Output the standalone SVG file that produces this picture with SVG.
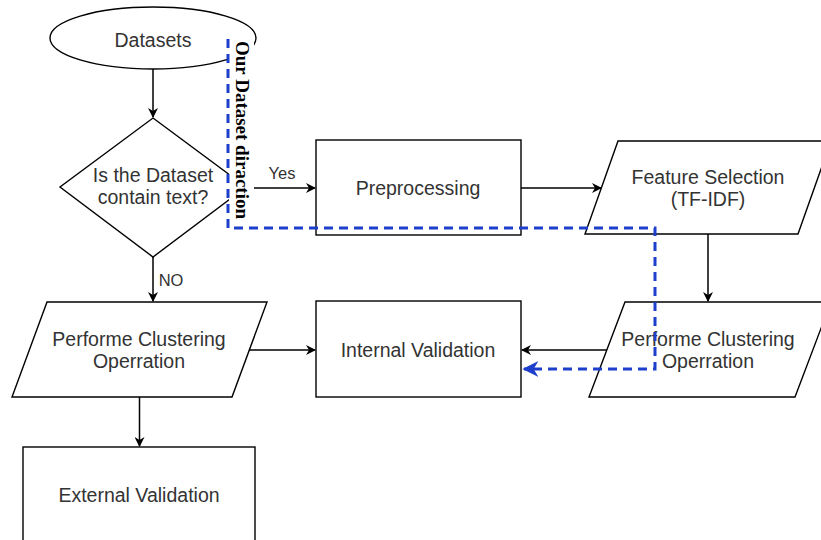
<svg xmlns="http://www.w3.org/2000/svg" width="821" height="540" viewBox="0 0 821 540">
<style>
.s{fill:#fff;stroke:#000;stroke-width:1.4}
.t{font-family:"Liberation Sans",Arial,sans-serif;font-size:19.5px;fill:#333;text-anchor:middle;dominant-baseline:central}
.l{font-family:"Liberation Sans",Arial,sans-serif;font-size:16.5px;fill:#333;text-anchor:middle;dominant-baseline:central}
.c{fill:none;stroke:#000;stroke-width:1.5}
.b{fill:none;stroke:#1d3fcc;stroke-width:3;stroke-dasharray:9 6}
</style>
<defs>
<marker id="ah" viewBox="0 0 10 10" refX="9" refY="5" markerWidth="10" markerHeight="10" markerUnits="userSpaceOnUse" orient="auto">
<path d="M0,0 L10,5 L0,10 L3,5 z" fill="#000"/>
</marker>
<marker id="bh" viewBox="0 0 10 10" refX="9" refY="5" markerWidth="16" markerHeight="16" markerUnits="userSpaceOnUse" orient="auto">
<path d="M0,0 L10,5 L0,10 L3,5 z" fill="#1d3fcc"/>
</marker>
</defs>
<g id="datasets"><ellipse class="s" cx="153" cy="38" rx="103" ry="31"/><text class="t" x="153" y="40">Datasets</text></g>
<g id="decision"><polygon class="s" points="153,118 246,187 153,257 60,187"/><text class="t" x="153" y="175">Is the Dataset</text><text class="t" x="153" y="197">contain text?</text></g>
<g id="preprocessing"><rect class="s" x="316" y="140" width="205" height="95"/><text class="t" x="418" y="188">Preprocessing</text></g>
<g id="feature"><polygon class="s" points="618,141 831,141 798,234 585,234"/><text class="t" x="708" y="177">Feature Selection</text><text class="t" x="708" y="199">(TF-IDF)</text></g>
<g id="cluster-right"><polygon class="s" points="625,302 831,302 795,397 589,397"/><text class="t" x="708" y="339">Performe Clustering</text><text class="t" x="708" y="361">Operration</text></g>
<g id="internal"><rect class="s" x="316" y="301" width="205" height="96"/><text class="t" x="418" y="350">Internal Validation</text></g>
<g id="cluster-left"><polygon class="s" points="47,302 267,302 232,397 12,397"/><text class="t" x="139" y="339">Performe Clustering</text><text class="t" x="139" y="361">Operration</text></g>
<g id="external"><rect class="s" x="23" y="447" width="232" height="120"/><text class="t" x="139" y="495">External Validation</text></g>
<g id="connectors">
<line class="c" x1="153" y1="69" x2="153" y2="117" marker-end="url(#ah)"/>
<line class="c" x1="246" y1="188" x2="315" y2="188" marker-end="url(#ah)"/>
<text class="l" x="282" y="173">Yes</text>
<line class="c" x1="521" y1="188" x2="601" y2="188" marker-end="url(#ah)"/>
<line class="c" x1="708" y1="234" x2="708" y2="301" marker-end="url(#ah)"/>
<line class="c" x1="607" y1="350" x2="522" y2="350" marker-end="url(#ah)"/>
<line class="c" x1="153" y1="257" x2="153" y2="301" marker-end="url(#ah)"/>
<text class="l" x="171" y="280">NO</text>
<line class="c" x1="249" y1="350" x2="315" y2="350" marker-end="url(#ah)"/>
<line class="c" x1="139.5" y1="397" x2="139.5" y2="446" marker-end="url(#ah)"/>
</g>
<g id="direction">
<rect x="229" y="42" width="25" height="180" fill="#fff"/>
<text x="242" y="130" transform="rotate(90 242 130)" font-family="'Liberation Serif','Times New Roman',serif" font-weight="bold" font-size="19" fill="#000" text-anchor="middle" dominant-baseline="central">Our Dataset diraction</text>
<polyline class="b" points="228,39 228,228 655,228 655,369 524,369" marker-end="url(#bh)"/>
</g>
</svg>
